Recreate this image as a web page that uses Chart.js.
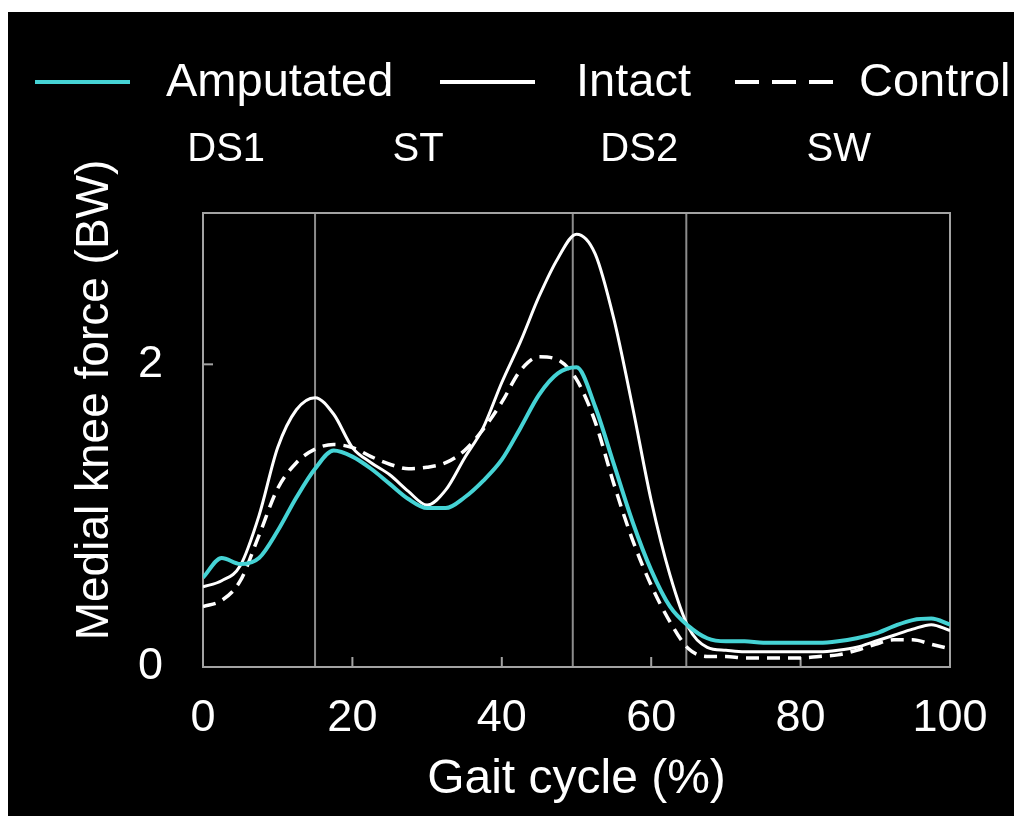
<!DOCTYPE html>
<html>
<head>
<meta charset="utf-8">
<title>Medial knee force</title>
<script src="https://cdn.jsdelivr.net/npm/chart.js@4.4.1/dist/chart.umd.min.js"></script>
<style>
  html, body { margin: 0; padding: 0; background: #fff; }
  #wrap { position: absolute; left: 8px; top: 12px; width: 1006px; height: 804px; background: #000; }
</style>
</head>
<body>
<div id="wrap"><canvas id="grafico"></canvas></div>
<script>
// Dados =====================================================================

const gait = [0, 2.5, 5, 7.5, 10, 12.5, 15, 17.5, 20, 22.5, 25, 27.5, 30, 32.5, 35, 37.5, 40,
  42.5, 45, 47.5, 50, 52.5, 55, 57.5, 60, 62.5, 65, 67.5, 70, 72.5, 75, 77.5, 80, 82.5, 85,
  87.5, 90, 92.5, 95, 97.5, 100];

const amputated = [0.59, 0.72, 0.68, 0.72, 0.90, 1.12, 1.31, 1.43, 1.39, 1.31, 1.21, 1.11, 1.05,
  1.05, 1.12, 1.23, 1.37, 1.58, 1.80, 1.94, 1.98, 1.72, 1.34, 0.96, 0.64, 0.40, 0.27, 0.19, 0.17,
  0.17, 0.16, 0.16, 0.16, 0.16, 0.17, 0.19, 0.22, 0.27, 0.31, 0.32, 0.28];

const intact = [0.53, 0.57, 0.67, 1.00, 1.45, 1.70, 1.78, 1.67, 1.45, 1.35, 1.27, 1.16, 1.07,
  1.17, 1.38, 1.58, 1.88, 2.15, 2.45, 2.70, 2.86, 2.73, 2.30, 1.72, 1.10, 0.61, 0.26, 0.13, 0.11,
  0.10, 0.10, 0.10, 0.10, 0.10, 0.11, 0.13, 0.17, 0.21, 0.25, 0.28, 0.24];

const control = [0.40, 0.44, 0.57, 0.87, 1.18, 1.35, 1.44, 1.47, 1.45, 1.39, 1.34, 1.31, 1.32,
  1.35, 1.43, 1.57, 1.75, 1.96, 2.05, 2.03, 1.90, 1.62, 1.21, 0.84, 0.54, 0.30, 0.12, 0.07, 0.07,
  0.06, 0.06, 0.06, 0.06, 0.07, 0.08, 0.11, 0.15, 0.18, 0.18, 0.15, 0.12];

const xTicks = [0, 20, 40, 60, 80, 100];
const yTicks = [0, 2];

// fases da marcha
const phaseLines = [15, 49.5, 64.7];
const phaseNames = ["DS1", "ST", "DS2", "SW"];
const phaseCenters = [3.1, 28.8, 58.4, 85.1];

const FONT = "'Liberation Sans', Arial, Helvetica, sans-serif";
const CYAN = "#45d3d5";

// Gráfico ====================================================================

const toPoints = (ys) => ys.map((v, i) => ({ x: gait[i], y: v }));

const data = {
  datasets: [
    { label: "Amputated", data: toPoints(amputated), borderColor: CYAN, borderWidth: 4 },
    { label: "Intact", data: toPoints(intact), borderColor: "#ffffff", borderWidth: 3 },
    { label: "Control", data: toPoints(control), borderColor: "#ffffff", borderWidth: 3.5, borderDash: [13, 8] },
  ],
};

// moldura, linhas das fases, legenda e rótulos
const moldura = {
  id: "moldura",
  beforeDatasetsDraw(chart) {
    const { ctx, chartArea: a, scales: { x, y } } = chart;
    ctx.save();
    ctx.lineWidth = 2;
    ctx.strokeStyle = "#8c8c8c";
    phaseLines.forEach((p) => {
      const px = x.getPixelForValue(p);
      ctx.beginPath();
      ctx.moveTo(px, a.top);
      ctx.lineTo(px, a.bottom);
      ctx.stroke();
    });
    ctx.strokeStyle = "#a3a3a3";
    ctx.strokeRect(a.left, a.top, a.width, a.height);
    xTicks.forEach((v) => {
      const px = x.getPixelForValue(v);
      ctx.beginPath();
      ctx.moveTo(px, a.bottom);
      ctx.lineTo(px, a.bottom - 10);
      ctx.stroke();
    });
    yTicks.forEach((v) => {
      const py = y.getPixelForValue(v);
      ctx.beginPath();
      ctx.moveTo(a.left, py);
      ctx.lineTo(a.left + 10, py);
      ctx.stroke();
    });
    ctx.restore();
  },
  afterDraw(chart) {
    const { ctx, scales: { x } } = chart;
    ctx.save();
    ctx.fillStyle = "#ffffff";
    ctx.textBaseline = "middle";

    // legenda
    const items = [
      { line: [27, 122], text: 158 },
      { line: [432, 527], text: 568 },
      { line: [727, 827], text: 851 },
    ];
    ctx.font = "47px " + FONT;
    chart.data.datasets.forEach((ds, i) => {
      const it = items[i];
      ctx.strokeStyle = ds.borderColor;
      ctx.lineWidth = 4;
      ctx.setLineDash(ds.borderDash ? [24, 13] : []);
      ctx.beginPath();
      ctx.moveTo(it.line[0], 70);
      ctx.lineTo(it.line[1], 70);
      ctx.stroke();
      ctx.textAlign = "left";
      ctx.fillText(ds.label, it.text, 71);
    });
    ctx.setLineDash([]);

    // fases
    ctx.font = "40px " + FONT;
    ctx.textAlign = "center";
    phaseNames.forEach((n, i) => {
      ctx.fillText(n, x.getPixelForValue(phaseCenters[i]), 138);
    });

    // título do eixo y
    ctx.font = "46px " + FONT;
    ctx.translate(87, 388);
    ctx.rotate(-Math.PI / 2);
    ctx.fillText("Medial knee force (BW)", 0, 0);
    ctx.restore();
  },
};

const config = {
  type: "line",
  data: data,
  options: {
    responsive: true,
    maintainAspectRatio: false,
    animation: false,
    events: [],
    layout: { padding: { left: 0, right: 64, top: 201, bottom: 0 } },
    elements: {
      point: { radius: 0 },
      line: { cubicInterpolationMode: "monotone", fill: false },
    },
    plugins: { legend: { display: false }, tooltip: { enabled: false } },
    scales: {
      x: {
        type: "linear",
        min: 0,
        max: 100,
        afterBuildTicks: (s) => { s.ticks = xTicks.map((v) => ({ value: v })); },
        afterFit: (s) => { s.height = 149; },
        grid: { display: false, drawTicks: false },
        border: { display: false },
        ticks: { color: "#ffffff", padding: 25, maxRotation: 0, font: { family: FONT, size: 45 } },
        title: {
          display: true,
          text: "Gait cycle (%)",
          color: "#ffffff",
          padding: { top: 0, bottom: 7 },
          font: { family: FONT, size: 48 },
        },
      },
      y: {
        min: 0,
        max: 3,
        afterBuildTicks: (s) => { s.ticks = yTicks.map((v) => ({ value: v })); },
        afterFit: (s) => { s.width = 195; },
        grid: { display: false, drawTicks: false },
        border: { display: false },
        ticks: { color: "#ffffff", padding: 40, font: { family: FONT, size: 45 } },
      },
    },
  },
  plugins: [moldura],
};

const grafico = new Chart(document.getElementById("grafico"), config);
</script>
</body>
</html>
